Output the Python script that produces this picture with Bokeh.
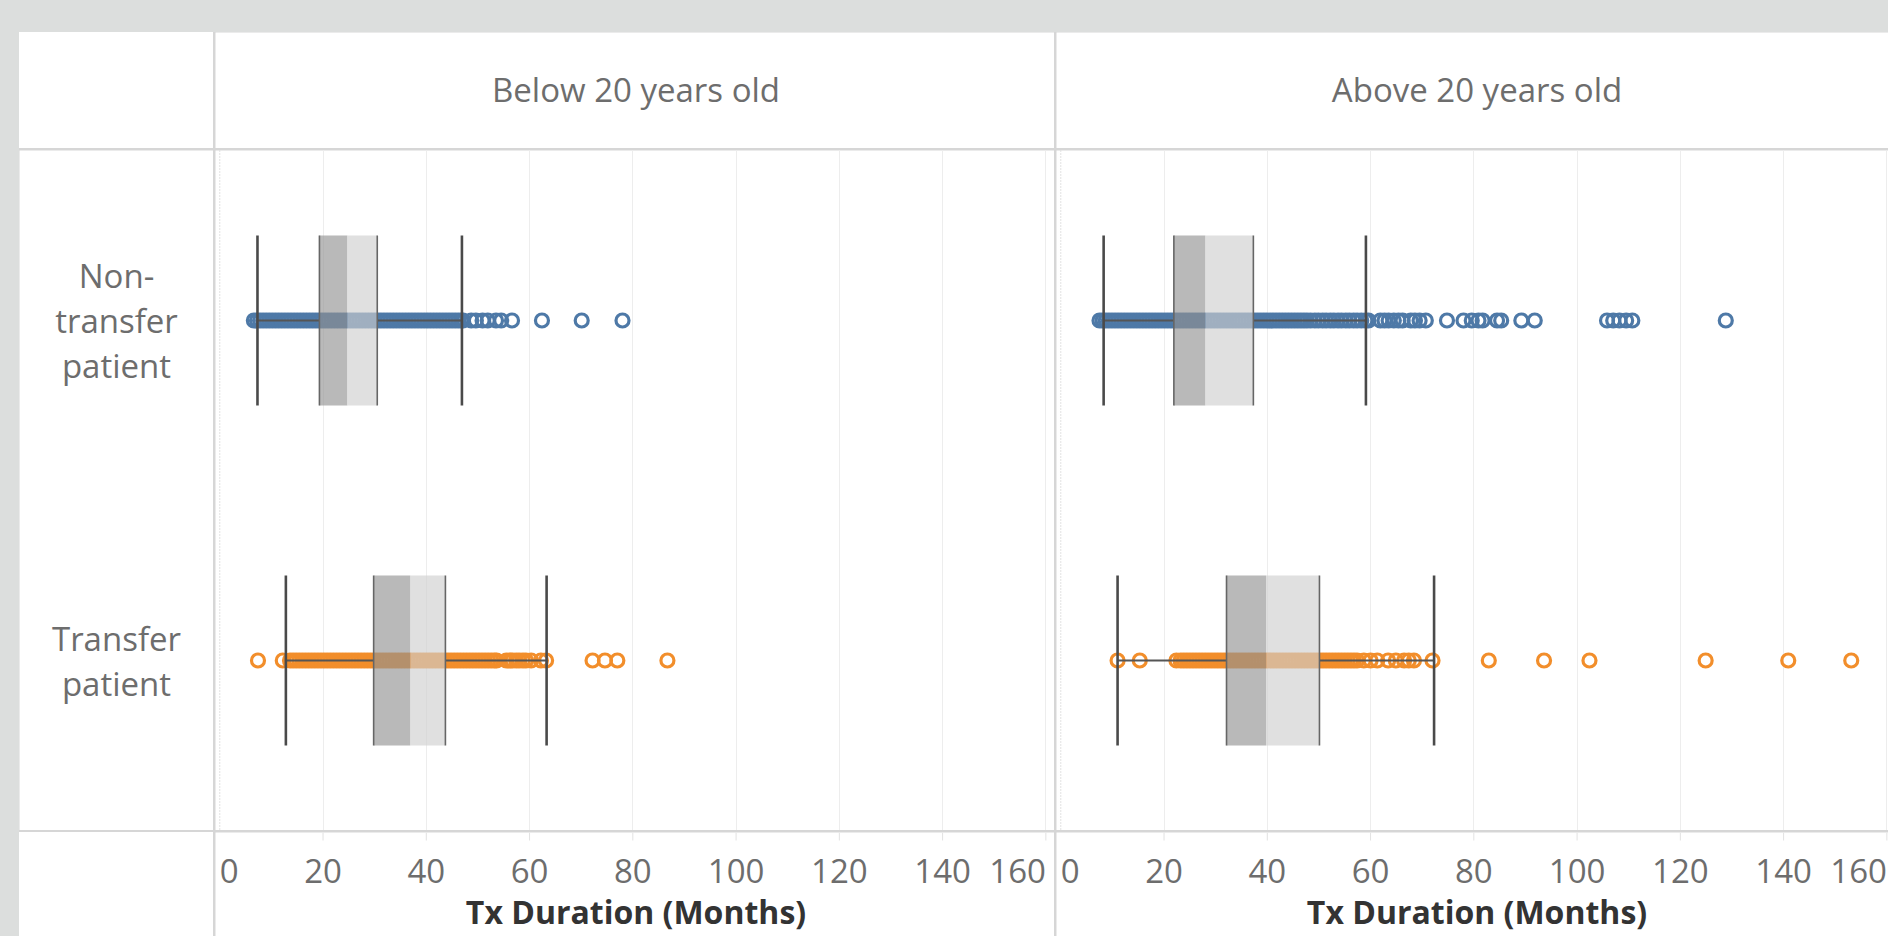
from bokeh.plotting import figure
from bokeh.layouts import row, column
from bokeh.models import Range1d, FactorRange, Grid, FixedTicker, Span, Spacer
from bokeh.core.properties import value
from bokeh.embed import file_html
from bokeh.resources import INLINE

# ---------------- data ----------------
CATEGORIES = ["Non-transfer patient", "Transfer patient"]
ROW_LABELS = ["Non-\ntransfer\npatient", "Transfer\npatient"]
AGE_GROUPS = ["Below 20 years old", "Above 20 years old"]
TICKS = [0, 20, 40, 60, 80, 100, 120, 140, 160]
TICK_LABELS = ["0", "20", "40", "60", "80", "100", "120", "140", "160"]
X_TITLE = "Tx Duration (Months)"

# box-plot statistics, order follows CATEGORIES
BELOW_LOW_WHISKER = [7.3, 12.8]
BELOW_Q1 = [19.3, 29.8]
BELOW_MEDIAN = [24.7, 36.9]
BELOW_Q3 = [30.5, 43.7]
BELOW_HIGH_WHISKER = [46.9, 63.3]

ABOVE_LOW_WHISKER = [8.3, 11.0]
ABOVE_Q1 = [21.9, 32.1]
ABOVE_MEDIAN = [28.0, 39.8]
ABOVE_Q3 = [37.3, 50.1]
ABOVE_HIGH_WHISKER = [59.1, 72.3]

# individual patients (months)
BELOW_NONTRANSFER = [
    6.6, 7.2, 7.8, 8.4, 9.0, 9.6, 10.2, 10.8, 11.4, 12.0, 12.6, 13.2, 13.8, 14.4,
    15.0, 15.6, 16.2, 16.8, 17.4, 18.0, 18.6, 19.2, 19.8, 20.4, 21.0, 21.6, 22.2,
    22.8, 23.4, 24.0, 24.6, 25.2, 25.8, 26.4, 27.0, 27.6, 28.2, 28.8, 29.4, 30.0,
    30.6, 31.2, 31.8, 32.4, 33.0, 33.6, 34.2, 34.8, 35.4, 36.0, 36.6, 37.2, 37.8,
    38.4, 39.0, 39.6, 40.2, 40.8, 41.4, 42.0, 42.6, 43.2, 43.8, 44.4, 45.0, 45.6,
    46.2, 46.8, 47.1,
    48.7, 49.6, 50.9, 51.9, 53.5, 54.5, 56.6, 62.4, 70.1, 78.0,
]
BELOW_TRANSFER = [
    7.4, 12.2,
    13.6, 14.2, 14.8, 15.4, 16.0, 16.6, 17.2, 17.8, 18.4, 19.0, 19.6, 20.2, 20.8,
    21.4, 22.0, 22.6, 23.2, 23.8, 24.4, 25.0, 25.6, 26.2, 26.8, 27.4, 28.0, 28.6,
    29.2, 29.8, 30.4, 31.0, 31.6, 32.2, 32.8, 33.4, 34.0, 34.6, 35.2, 35.8, 36.4,
    37.0, 37.6, 38.2, 38.8, 39.4, 40.0, 40.6, 41.2, 41.8, 42.4, 43.0, 43.6, 44.2,
    44.8, 45.4, 46.0, 46.6, 47.2, 47.8, 48.4, 49.0, 49.6, 50.2, 50.8, 51.4, 52.0,
    52.6, 53.2, 53.6,
    55.5, 56.2, 56.7, 57.4, 58.0, 58.7, 59.3, 60.3, 62.2, 63.2,
    72.2, 74.6, 77.0, 86.7,
]
ABOVE_NONTRANSFER = [
    7.5, 8.1, 8.7, 9.3, 9.9, 10.5, 11.1, 11.7, 12.3, 12.9, 13.5, 14.1, 14.7, 15.3,
    15.9, 16.5, 17.1, 17.7, 18.3, 18.9, 19.5, 20.1, 20.7, 21.3, 21.9, 22.5, 23.1,
    23.7, 24.3, 24.9, 25.5, 26.1, 26.7, 27.3, 27.9, 28.5, 29.1, 29.7, 30.3, 30.9,
    31.5, 32.1, 32.7, 33.3, 33.9, 34.5, 35.1, 35.7, 36.3, 36.9, 37.5, 38.1, 38.7,
    39.3, 39.9, 40.5, 41.1, 41.7, 42.3, 42.9, 43.5, 44.1, 44.7, 45.3, 45.9, 46.5,
    47.1, 47.7,
    48.4, 49.2, 49.9, 50.7, 51.4, 52.2, 52.9, 53.7, 54.4, 55.2, 55.9, 56.7, 57.4,
    58.2, 59.0,
    59.6, 61.9, 62.7, 63.5, 64.5, 65.4, 66.2, 67.8, 68.6, 69.5, 70.7, 74.8, 78.0,
    79.6, 80.9, 81.7, 84.5, 85.3, 89.2, 91.8, 105.8, 107.0, 108.2, 109.5, 110.7,
    128.8,
]
ABOVE_TRANSFER = [
    11.0, 15.3, 22.4,
    23.2, 23.8, 24.4, 25.0, 25.6, 26.2, 26.8, 27.4, 28.0, 28.6, 29.2, 29.8, 30.4,
    31.0, 31.6, 32.2, 32.8, 33.4, 34.0, 34.6, 35.2, 35.8, 36.4, 37.0, 37.6, 38.2,
    38.8, 39.4, 40.0, 40.6, 41.2, 41.8, 42.4, 43.0, 43.6, 44.2, 44.8, 45.4, 46.0,
    46.6, 47.2, 47.8, 48.4, 49.0, 49.6, 50.2, 50.8, 51.4, 52.0, 52.6, 53.2, 53.8,
    54.4, 55.0, 55.6, 56.2, 56.8, 57.4,
    58.7, 60.0, 61.3, 63.4, 64.9, 66.5, 67.4, 68.4, 72.0,
    82.9, 93.6, 102.4, 124.9, 140.9, 153.1,
]

# ---------------- styles ----------------
SERIES_COLORS = ["#4e79a7", "#f28e2b"]
PAGE_GREY = "#dcdedd"
LINE_GREY = "#d6d6d6"
TEXT_GREY = "#6d6d6d"
FONT = "Open Sans"
FONT_SIZE = "33px"

LEFT_PAD, TOP_PAD = 19, 32
COL1_W, COL2_W = 194, 839
COL3_W = 1888 - LEFT_PAD - COL1_W - 2 - COL2_W - 2
ROW1_H, ROW2_H = 116, 680
ROW3_H = 936 - TOP_PAD - ROW1_H - 2 - ROW2_H - 2
PX_PER_MONTH = 5.163
X_START = -0.83
X_NATURAL_END = X_START + 841 / PX_PER_MONTH
X_CENTER = (X_START + X_NATURAL_END) / 2

y_range = FactorRange(factors=CATEGORIES[::-1])


def base_fig(width, height, x_range, y_rng):
    p = figure(width=width, height=height, x_range=x_range, y_range=y_rng,
               output_backend="svg", toolbar_location=None,
               x_axis_location=None, y_axis_location=None,
               min_border=0, min_border_left=0, min_border_right=0,
               min_border_top=0, min_border_bottom=0)
    p.grid.visible = False
    p.outline_line_color = None
    p.background_fill_color = "white"
    p.border_fill_color = "white"
    return p


def make_column(width, title, points, low, q1, med, q3, high):
    xr = Range1d(X_START, X_START + width / PX_PER_MONTH)

    # header
    h = base_fig(width, ROW1_H, xr, Range1d(ROW1_H, 0))
    h.text(x=[X_CENTER], y=[57], text=[title], text_align="center",
           text_baseline="alphabetic", text_font=value(FONT),
           text_font_size=FONT_SIZE, text_color=TEXT_GREY)

    # panel
    p = base_fig(width, ROW2_H, xr, y_range)
    p.add_layout(Grid(dimension=0, ticker=FixedTicker(ticks=TICKS[1:]),
                      grid_line_color="#ededed", grid_line_width=1))
    p.add_layout(Span(location=0, dimension="height", line_color="#c4c4c4",
                      line_width=1, line_dash="1 2"))
    for cat, vals, col in zip(CATEGORIES, points, SERIES_COLORS):
        p.scatter(x=vals, y=[cat] * len(vals), marker="circle", size=13,
                  fill_color=None, line_color=col, line_width=3.2)
    p.segment(x0=low, y0=CATEGORIES, x1=q1, y1=CATEGORIES,
              line_color="#555555", line_width=2)
    p.segment(x0=q3, y0=CATEGORIES, x1=high, y1=CATEGORIES,
              line_color="#555555", line_width=2)
    p.hbar(y=CATEGORIES, left=q1, right=med, height=0.5,
           fill_color="#929292", fill_alpha=0.64, line_color=None)
    p.hbar(y=CATEGORIES, left=med, right=q3, height=0.5,
           fill_color="#cecece", fill_alpha=0.64, line_color=None)
    for edge in (q1, q3):
        p.rect(x=edge, y=CATEGORIES, width=1.6, width_units="screen",
               height=0.5, fill_color="#666666", line_color=None)
    for cap in (low, high):
        p.rect(x=cap, y=CATEGORIES, width=2.6, width_units="screen",
               height=0.5, fill_color="#4a4a4a", line_color=None)

    # axis strip
    a = base_fig(width, ROW3_H, xr, Range1d(ROW3_H, 0))
    a.segment(x0=TICKS[1:], y0=[0] * 8, x1=TICKS[1:], y1=[8] * 8,
              line_color="#e2e2e2", line_width=1)
    aligns = ["left"] + ["center"] * (len(TICKS) - 2) + ["right"]
    a.text(x=TICKS, y=[38] * len(TICKS), text=TICK_LABELS, text_align=aligns,
           text_baseline="alphabetic", text_font=value(FONT),
           text_font_size=FONT_SIZE, text_color=TEXT_GREY)
    a.text(x=[X_CENTER], y=[79], text=[X_TITLE], text_align="center",
           text_baseline="alphabetic", text_font=value(FONT),
           text_font_style="bold", text_font_size="32px",
           text_color="#333333")
    return h, p, a


hl, pl, al = make_column(COL2_W, AGE_GROUPS[0],
                         [BELOW_NONTRANSFER, BELOW_TRANSFER],
                         BELOW_LOW_WHISKER, BELOW_Q1, BELOW_MEDIAN, BELOW_Q3,
                         BELOW_HIGH_WHISKER)
hr, pr, ar = make_column(COL3_W, AGE_GROUPS[1],
                         [ABOVE_NONTRANSFER, ABOVE_TRANSFER],
                         ABOVE_LOW_WHISKER, ABOVE_Q1, ABOVE_MEDIAN, ABOVE_Q3,
                         ABOVE_HIGH_WHISKER)

# row labels
lab = base_fig(COL1_W, ROW2_H, Range1d(0, 1), y_range)
lab.text(x=[0.5] * len(CATEGORIES), y=CATEGORIES, text=ROW_LABELS,
         text_align="center", text_baseline="middle", text_font=value(FONT),
         text_font_size=FONT_SIZE, text_color=TEXT_GREY, text_line_height=1.0,
         y_offset=0)

blank_top = Spacer(width=COL1_W, height=ROW1_H, styles={"background-color": "white"})
blank_bot = Spacer(width=COL1_W, height=ROW3_H, styles={"background-color": "white"})

grid = column(
    row(blank_top, hl, hr, spacing=2),
    row(lab, pl, pr, spacing=2),
    row(blank_bot, al, ar, spacing=2),
    spacing=2, styles={"background-color": LINE_GREY},
)
page = column(
    Spacer(width=1888, height=TOP_PAD),
    row(Spacer(width=LEFT_PAD, height=936 - TOP_PAD), grid),
    styles={"background-color": PAGE_GREY},
)

open("out.html", "w").write(file_html(page, INLINE))
